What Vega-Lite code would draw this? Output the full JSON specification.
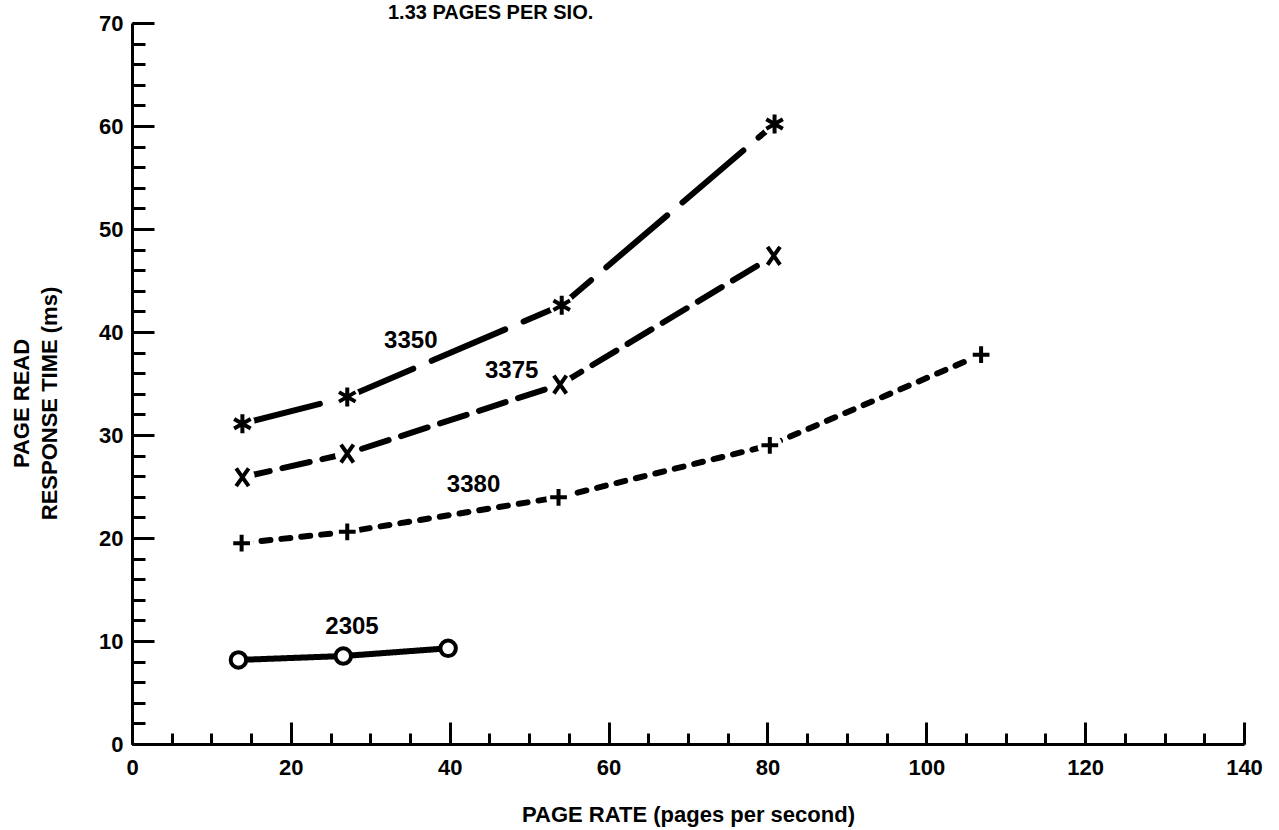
{
  "$schema": "https://vega.github.io/schema/vega-lite/v6.json",
  "width": 1112,
  "height": 721,
  "autosize": {"type": "none"},
  "padding": {"left": 132, "top": 23, "right": 35, "bottom": 86},
  "background": "white",
  "title": {"text": "1.33 PAGES PER SIO.", "anchor": "start", "frame": "group", "dx": 256, "offset": 13, "dy": 40, "baseline": "alphabetic", "fontSize": 20, "font": "Liberation Sans", "fontWeight": "bold", "color": "black"},
  "datasets": {
    "pts": [
      {"series": "3350", "x": 13.9, "y": 31.1},
      {"series": "3350", "x": 27.1, "y": 33.7},
      {"series": "3350", "x": 54.1, "y": 42.6},
      {"series": "3350", "x": 80.9, "y": 60.2},
      {"series": "3375", "x": 13.9, "y": 25.9},
      {"series": "3375", "x": 27.1, "y": 28.2},
      {"series": "3375", "x": 53.9, "y": 34.9},
      {"series": "3375", "x": 80.8, "y": 47.4},
      {"series": "3380", "x": 13.8, "y": 19.5},
      {"series": "3380", "x": 27.1, "y": 20.6},
      {"series": "3380", "x": 53.7, "y": 23.95},
      {"series": "3380", "x": 80.3, "y": 29.0},
      {"series": "3380", "x": 106.9, "y": 37.8},
      {"series": "2305", "x": 13.4, "y": 8.16},
      {"series": "2305", "x": 26.6, "y": 8.54},
      {"series": "2305", "x": 39.8, "y": 9.29}
    ],
    "labels": [
      {"label": "3350", "x": 35.1, "y": 39.1},
      {"label": "3375", "x": 47.8, "y": 36.2},
      {"label": "3380", "x": 43.0, "y": 25.1},
      {"label": "2305", "x": 27.7, "y": 11.4}
    ]
  },
  "resolve": {"axis": {"x": "independent", "y": "independent"}},
  "layer": [
    {
      "data": {"name": "pts"},
      "mark": {"type": "line", "color": "black", "strokeWidth": 6, "strokeCap": "round"},
      "encoding": {
        "x": {"field": "x", "type": "quantitative", "scale": {"domain": [0, 140], "nice": false},
          "axis": {"orient": "bottom", "values": [0, 20, 40, 60, 80, 100, 120, 140], "tickSize": -22, "tickWidth": 3, "tickColor": "black", "domainWidth": 3, "domainColor": "black", "grid": false,
            "labelFont": "Liberation Sans", "labelFontWeight": "bold", "labelFontSize": 22, "labelColor": "black", "labelPadding": 35, "labelFlush": false, "labelOverlap": false, "labelBound": false,
            "title": "PAGE RATE (pages per second)", "titleFont": "Liberation Sans", "titleFontSize": 22, "titleFontWeight": "bold", "titleColor": "black", "titleY": 77, "titleBaseline": "alphabetic"}},
        "y": {"field": "y", "type": "quantitative", "scale": {"domain": [0, 70], "nice": false},
          "axis": {"orient": "left", "values": [0, 10, 20, 30, 40, 50, 60, 70], "tickSize": -22, "tickWidth": 3, "tickColor": "black", "domainWidth": 3, "domainColor": "black", "grid": false,
            "labelFont": "Liberation Sans", "labelFontWeight": "bold", "labelFontSize": 22, "labelColor": "black", "labelPadding": 31, "labelFlush": false, "labelOverlap": false, "labelBound": false,
            "title": ["PAGE READ", "RESPONSE TIME (ms)"], "titleFont": "Liberation Sans", "titleFontSize": 22, "titleFontWeight": "bold", "titleColor": "black", "titleLineHeight": 28, "titleX": -111, "titleY": 380, "titleAngle": -90, "titleAlign": "center", "titleBaseline": "middle"}},
        "detail": {"field": "series", "type": "nominal"},
        "strokeDash": {"field": "series", "type": "nominal", "scale": {"domain": ["3350", "3375", "3380", "2305"], "range": [[80, 20], [28, 13], [9, 11], [1, 0]]}, "legend": null}
      }
    },
    {
      "data": {"name": "pts"},
      "transform": [{"filter": "datum.series != '2305'"}],
      "mark": {"type": "point", "shape": "circle", "filled": true, "color": "white", "opacity": 1, "size": 600},
      "encoding": {
        "x": {"field": "x", "type": "quantitative",
          "axis": {"orient": "bottom", "values": [0, 5, 10, 15, 20, 25, 30, 35, 40, 45, 50, 55, 60, 65, 70, 75, 80, 85, 90, 95, 100, 105, 110, 115, 120, 125, 130, 135, 140], "tickSize": -11, "tickWidth": 3, "tickColor": "black", "domain": false, "labels": false, "grid": false, "title": null}},
        "y": {"field": "y", "type": "quantitative",
          "axis": {"orient": "left", "values": [0, 2, 4, 6, 8, 10, 12, 14, 16, 18, 20, 22, 24, 26, 28, 30, 32, 34, 36, 38, 40, 42, 44, 46, 48, 50, 52, 54, 56, 58, 60, 62, 64, 66, 68, 70], "tickSize": -13, "tickWidth": 3, "tickColor": "black", "domain": false, "labels": false, "grid": false, "title": null}}
      }
    },
    {
      "data": {"name": "pts"},
      "mark": {"type": "point", "fill": "white", "fillOpacity": 1, "stroke": "black", "strokeWidth": 4, "opacity": 1},
      "encoding": {
        "x": {"field": "x", "type": "quantitative", "axis": null},
        "y": {"field": "y", "type": "quantitative", "axis": null},
        "shape": {"field": "series", "type": "nominal", "scale": {"domain": ["3350", "3375", "3380", "2305"], "range": ["M0,-1L0,1M-0.87,-0.5L0.87,0.5M-0.87,0.5L0.87,-0.5", "M-0.7,-1L0.7,1M0.7,-1L-0.7,1", "M-1,0L1,0M0,-1L0,1", "circle"]}, "legend": null},
        "size": {"field": "series", "type": "ordinal", "scale": {"domain": ["3350", "3375", "3380", "2305"], "range": [361, 240, 440, 340]}, "legend": null}
      }
    },
    {
      "data": {"name": "labels"},
      "mark": {"type": "text", "font": "Liberation Sans", "fontWeight": "bold", "fontSize": 24, "color": "black", "align": "center", "baseline": "middle"},
      "encoding": {
        "x": {"field": "x", "type": "quantitative", "axis": null},
        "y": {"field": "y", "type": "quantitative", "axis": null},
        "text": {"field": "label"}
      }
    }
  ],
  "config": {"view": {"stroke": null}}
}
